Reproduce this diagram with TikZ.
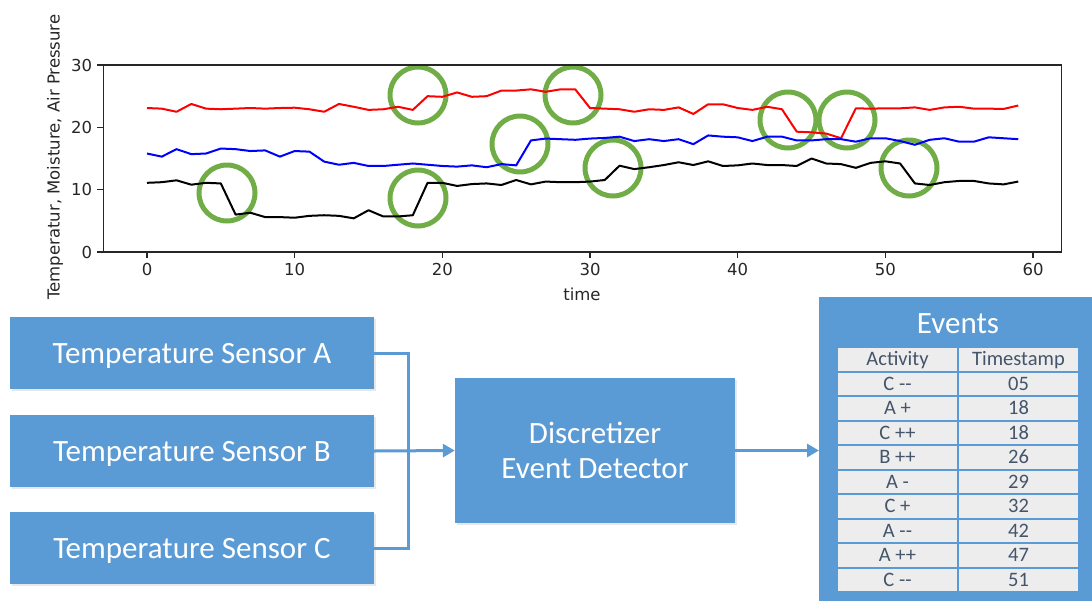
\documentclass[tikz,border=0pt]{standalone}
\usepackage{fontspec}
\setmainfont{Carlito}
\newfontfamily\dejavu{DejaVu Sans}
\usetikzlibrary{arrows.meta,shadows}
\definecolor{boxblue}{RGB}{91,155,213}
\definecolor{ringgreen}{RGB}{112,173,71}
\definecolor{celltext}{RGB}{68,84,106}
\definecolor{cellfill}{RGB}{237,237,237}
\begin{document}
\begin{tikzpicture}[x=1pt,y=-1pt,
  bluebox/.style={rectangle, fill=boxblue, inner sep=0pt, text=white,
    font=\fontsize{31}{36}\selectfont, text height=20pt, text depth=0pt,
    drop shadow={shadow xshift=1.5pt, shadow yshift=-1.5pt, opacity=0.18}},
  lbl/.style={inner sep=0pt, text=white, font=\fontsize{31}{36}\selectfont,
    text height=20pt, text depth=0pt},
  cell/.style={rectangle, fill=cellfill, draw=boxblue, line width=2pt,
    minimum width=121pt, minimum height=24.5pt, inner sep=0pt, text=celltext,
    font=\fontsize{20.5}{24}\selectfont, text height=13.2pt, text depth=0pt},
  conn/.style={draw=boxblue, line width=3pt},
  tip/.style={-{Triangle[length=12pt,width=13pt]}},
  ring/.style={draw=ringgreen, line width=5pt},
  series/.style={line width=2pt, line join=round},
  axisline/.style={draw=black!85, line width=1.2pt},
  ticklbl/.style={inner sep=0pt, font=\dejavu\fontsize{16.5}{19}\selectfont, text=black!85}
]
\useasboundingbox (0,0) rectangle (1092,600);
\clip (0,0) rectangle (1092,600);

% ---------- chart ----------
\draw[ring] (227,193) circle[radius=28];
\draw[ring] (418,95) circle[radius=28];
\draw[ring] (418,198) circle[radius=28];
\draw[ring] (520,144) circle[radius=28];
\draw[ring] (573,95) circle[radius=28];
\draw[ring] (613,168) circle[radius=28];
\draw[ring] (788,120) circle[radius=28];
\draw[ring] (847,120) circle[radius=28];
\draw[ring] (909,168) circle[radius=28];

\begin{scope}[shift={(147,252)}, x=14.767pt, y=6.233pt]
  \draw[series, red] plot coordinates {(0,23.1) (1,23.0) (2,22.5) (3,23.75) (4,23.0) (5,22.9) (6,23.0) (7,23.1) (8,23.0) (9,23.1) (10,23.15) (11,22.9) (12,22.5) (13,23.75) (14,23.3) (15,22.8) (16,22.9) (17,23.3) (18,22.8) (19,25.0) (20,24.9) (21,25.6) (22,24.9) (23,25.0) (24,25.9) (25,25.9) (26,26.1) (27,25.7) (28,26.1) (29,26.1) (30,23.1) (31,23.0) (32,22.9) (33,22.5) (34,22.9) (35,22.8) (36,23.2) (37,22.15) (38,23.7) (39,23.7) (40,23.1) (41,22.8) (42,23.3) (43,22.9) (44,19.3) (45,19.2) (46,19.0) (47,18.25) (48,23.05) (49,23.0) (50,23.05) (51,23.05) (52,23.2) (53,22.8) (54,23.2) (55,23.3) (56,23.0) (57,23.0) (58,22.95) (59,23.5)};
  \draw[series, blue] plot coordinates {(0,15.8) (1,15.3) (2,16.5) (3,15.7) (4,15.8) (5,16.6) (6,16.5) (7,16.2) (8,16.3) (9,15.3) (10,16.2) (11,16.1) (12,14.5) (13,14.0) (14,14.3) (15,13.8) (16,13.8) (17,14.0) (18,14.2) (19,14.0) (20,13.8) (21,13.7) (22,13.9) (23,13.6) (24,14.1) (25,13.9) (26,17.9) (27,18.2) (28,18.1) (29,18.0) (30,18.2) (31,18.3) (32,18.5) (33,17.8) (34,18.1) (35,17.8) (36,18.1) (37,17.3) (38,18.7) (39,18.5) (40,18.4) (41,17.8) (42,18.5) (43,18.5) (44,17.9) (45,17.9) (46,18.1) (47,18.1) (48,17.7) (49,18.25) (50,18.25) (51,17.8) (52,17.2) (53,18.0) (54,18.25) (55,17.7) (56,17.7) (57,18.4) (58,18.25) (59,18.1)};
  \draw[series, black] plot coordinates {(0,11.1) (1,11.2) (2,11.5) (3,10.8) (4,11.1) (5,11.0) (6,6.0) (7,6.3) (8,5.6) (9,5.6) (10,5.5) (11,5.8) (12,5.9) (13,5.8) (14,5.4) (15,6.7) (16,5.7) (17,5.7) (18,5.9) (19,11.1) (20,11.1) (21,10.6) (22,10.9) (23,11.0) (24,10.75) (25,11.55) (26,10.85) (27,11.3) (28,11.2) (29,11.2) (30,11.3) (31,11.55) (32,13.85) (33,13.3) (34,13.6) (35,13.95) (36,14.4) (37,13.95) (38,14.55) (39,13.8) (40,13.9) (41,14.2) (42,13.95) (43,13.95) (44,13.8) (45,15.0) (46,14.2) (47,14.1) (48,13.5) (49,14.3) (50,14.55) (51,14.2) (52,11.0) (53,10.75) (54,11.2) (55,11.4) (56,11.4) (57,11.0) (58,10.85) (59,11.3)};
  \draw[axisline] (-2.95,0) rectangle (61.95,30);
  \foreach \t in {0,10,...,60} {
    \draw[axisline] (\t,0) -- ++(0pt,-6pt);
    \node[ticklbl, anchor=north] (xt\t) at ([yshift=-11pt]\t,0) {\t};
  }
  \foreach \v in {0,10,20,30} {
    \draw[axisline] (-2.95,\v) -- ++(-6pt,0pt);
    \node[ticklbl, anchor=east] (yt\v) at ([xshift=-11pt]-2.95,\v) {\v};
  }
\end{scope}
\node[ticklbl] (xlab) at (582,294) {time};
\node[ticklbl, rotate=90] (ylab) at (55,157) {Temperatur, Moisture, Air Pressure};

% ---------- flow ----------
\node[bluebox, minimum width=364pt, minimum height=72pt] (sA) at (192,353) {Temperature Sensor A};
\node[bluebox, minimum width=364pt, minimum height=72pt] (sB) at (192,451) {Temperature Sensor B};
\node[bluebox, minimum width=364pt, minimum height=72pt] (sC) at (192,548) {Temperature Sensor C};
\node[bluebox, minimum width=280pt, minimum height=145pt] (det) at (595,450.5) {};
\node[lbl] (det1) at (595,433) {Discretizer};
\node[lbl] (det2) at (595,468) {Event Detector};
\node[rectangle, fill=boxblue, minimum width=280pt, minimum height=320pt, anchor=north west, inner sep=0pt] (ev) at (819,297) {};
\node[lbl] (evt) at (958,323) {Events};

\foreach \a/\b [count=\i from 0] in {Activity/Timestamp, C -\kern0pt-/05, A +/18, C ++/18, B ++/26, A -/29, C +/32, A -\kern0pt-/42, A ++/47, C -\kern0pt-/51} {
  \node[cell] (ca\i) at (897.5,{347+24.5*(\i+0.5)}) {\a};
  \node[cell] (cb\i) at (1018.5,{347+24.5*(\i+0.5)}) {\b};
}

\coordinate (jn) at (408,451);
\draw[conn] (sA.east) -| (jn);
\draw[conn] (sC.east) -| (jn);
\draw[conn, tip] (sB.east) -- (det.west);
\draw[conn, tip] (det.east) -- (det.east -| ev.west);
\end{tikzpicture}
\end{document}
